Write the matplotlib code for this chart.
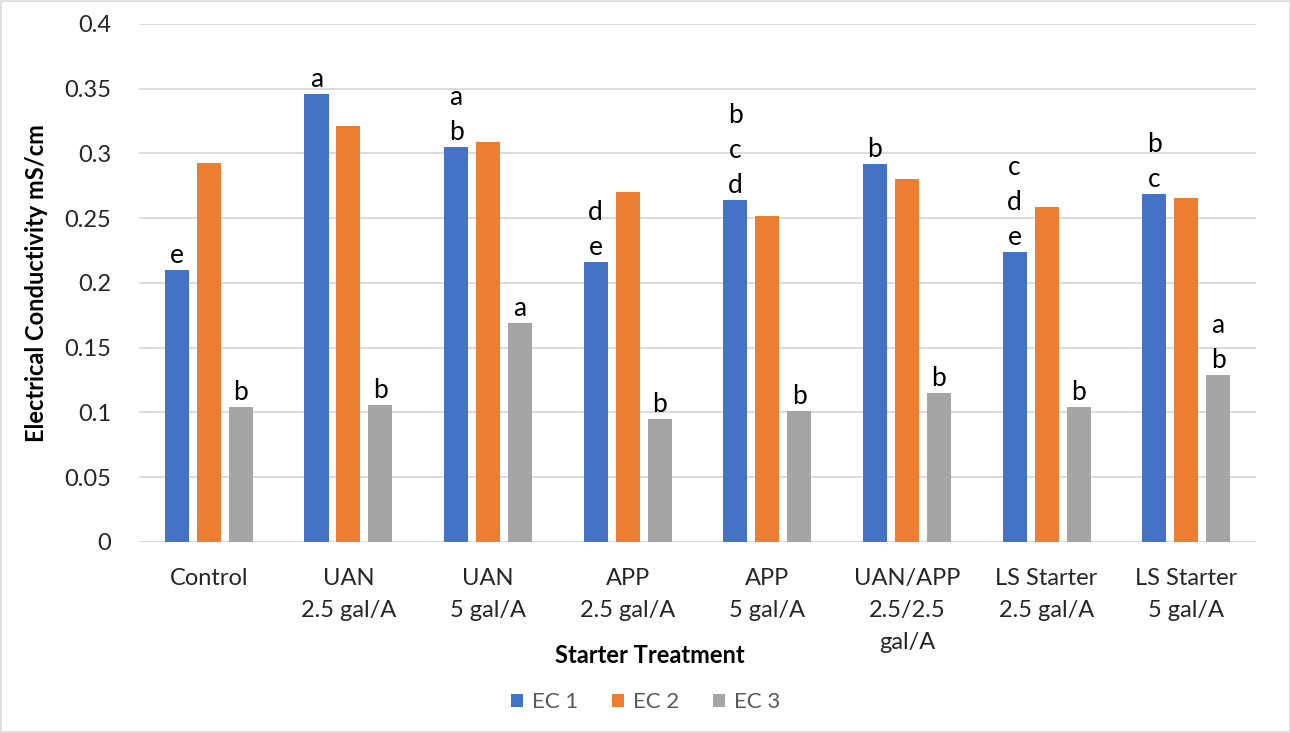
import matplotlib.pyplot as plt
import numpy as np
from matplotlib.patches import Rectangle

plt.rcParams['font.family'] = ['Lato', 'DejaVu Sans']

treatments = ['Control', 'UAN\n2.5 gal/A', 'UAN\n5 gal/A', 'APP\n2.5 gal/A', 'APP\n5 gal/A',
              'UAN/APP\n2.5/2.5\ngal/A', 'LS Starter\n2.5 gal/A', 'LS Starter\n5 gal/A']
ec1 = [0.210, 0.346, 0.305, 0.216, 0.264, 0.292, 0.224, 0.269]
ec2 = [0.293, 0.321, 0.309, 0.270, 0.252, 0.280, 0.259, 0.266]
ec3 = [0.104, 0.106, 0.169, 0.095, 0.101, 0.115, 0.104, 0.129]
ec1_letters = ['e', 'a', 'a\nb', 'd\ne', 'b\nc\nd', 'b', 'c\nd\ne', 'b\nc']
ec3_letters = ['b', 'b', 'a', 'b', 'b', 'b', 'b', 'a\nb']

colors = ['#4472C4', '#ED7D31', '#A5A5A5']
names = ['EC 1', 'EC 2', 'EC 3']

fig = plt.figure(figsize=(12.91, 7.33), dpi=100)
ax = fig.add_axes([0.1077, 0.2606, 0.8652, 0.7067])
fig.patches.append(Rectangle((0.001, 0.001), 0.998, 0.997, transform=fig.transFigure,
                             fill=False, edgecolor='#d9d9d9', linewidth=1.2))

x = np.arange(len(treatments))
w = 0.172
step = 0.229
bars = []
for i, (vals, c, n) in enumerate(zip([ec1, ec2, ec3], colors, names)):
    b = ax.bar(x + (i - 1) * step, vals, width=w, color=c, label=n, zorder=3)
    bars.append(b)

# significance letters above EC 1 and EC 3 bars
for j in range(len(treatments)):
    for bi, lab in [(0, ec1_letters[j]), (2, ec3_letters[j])]:
        r = bars[bi][j]
        ax.annotate(lab, (r.get_x() + r.get_width() / 2, r.get_height()),
                    xytext=(0, 1.5), textcoords='offset points', ha='center', va='bottom',
                    fontsize=19, linespacing=1.5, color='black', zorder=4)

ax.set_xlim(-0.5, 7.5)
ax.set_ylim(0, 0.4)
ax.set_yticks(np.arange(0, 0.401, 0.05))
ax.set_yticklabels(['0', '0.05', '0.1', '0.15', '0.2', '0.25', '0.3', '0.35', '0.4'])
ax.set_xticks(x)
ax.set_xticklabels(treatments, linespacing=1.65)
ax.tick_params(axis='both', length=0, labelsize=17, labelcolor='#262626')
ax.tick_params(axis='x', pad=19)
ax.tick_params(axis='y', pad=20)
ax.grid(axis='y', color='#d9d9d9', linewidth=1.3, zorder=0)
for s in ['top', 'right', 'left', 'bottom']:
    ax.spines[s].set_visible(False)

ax.set_ylabel('Electrical Conductivity mS/cm', fontsize=17, fontweight='bold', labelpad=12)
fig.text(0.503, 0.106, 'Starter Treatment', ha='center', va='center', fontsize=17, fontweight='bold')

fig.legend(handles=bars, labels=names, loc='center', bbox_to_anchor=(0.5, 0.042), ncol=3,
           frameon=False, fontsize=16, handlelength=0.55, handleheight=0.55, columnspacing=1.5,
           handletextpad=0.4, labelcolor='#595959')

fig.savefig('out.png', dpi=100)
